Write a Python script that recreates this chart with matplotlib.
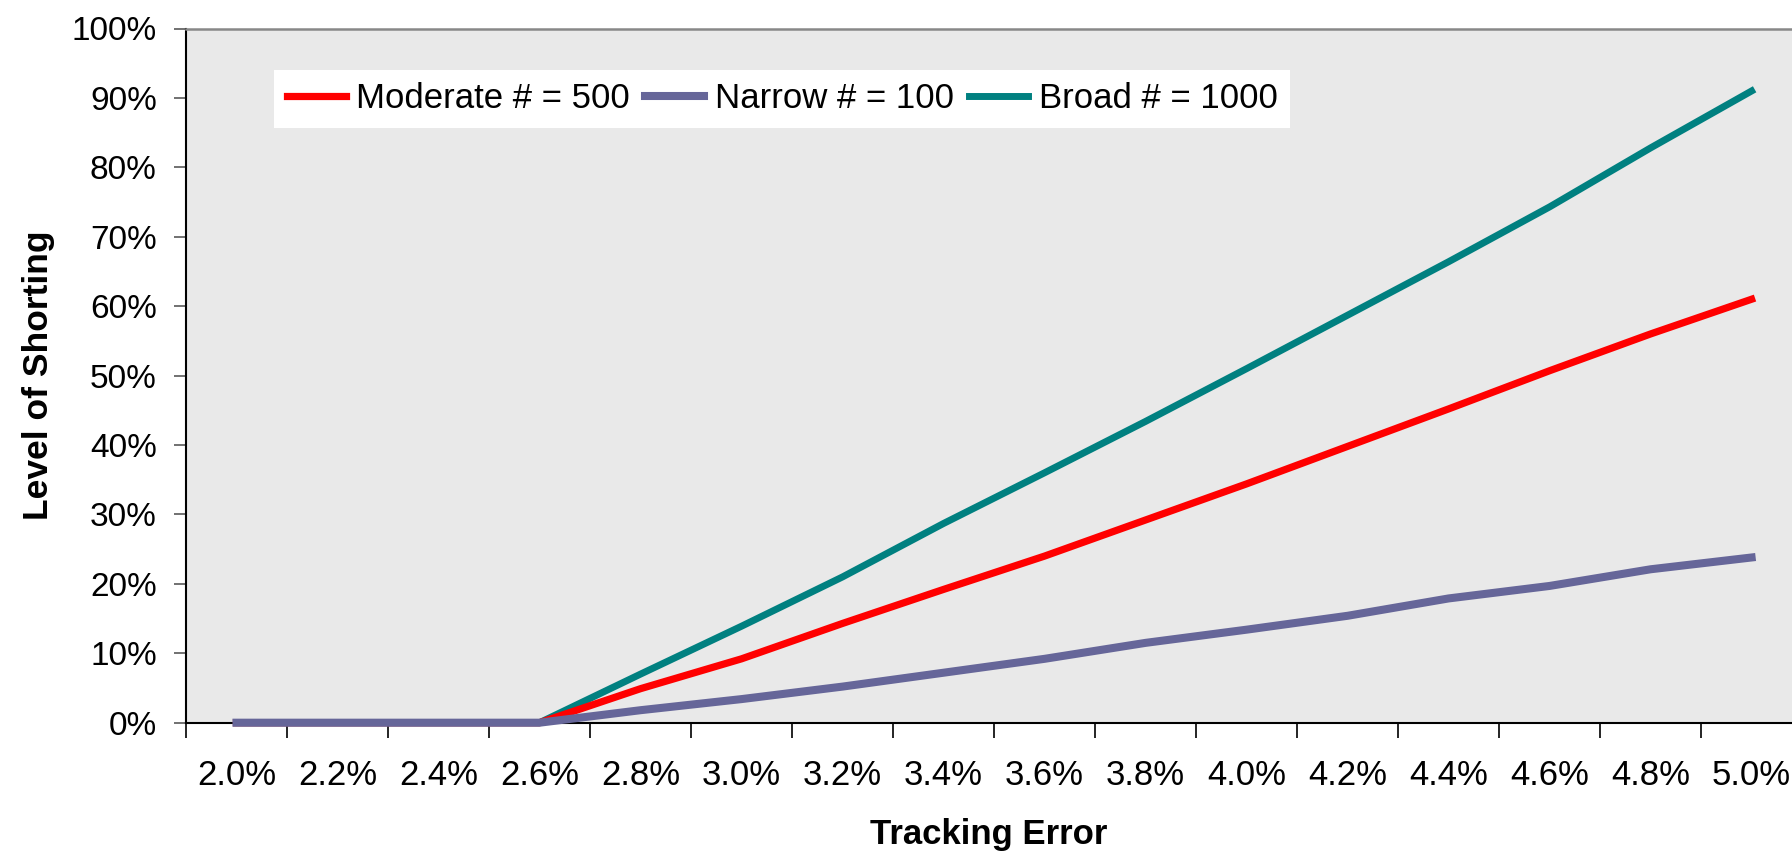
import matplotlib
matplotlib.use("Agg")
import matplotlib.pyplot as plt
from matplotlib.ticker import FixedLocator, FuncFormatter

categories = ["2.0%", "2.2%", "2.4%", "2.6%", "2.8%", "3.0%", "3.2%", "3.4%",
              "3.6%", "3.8%", "4.0%", "4.2%", "4.4%", "4.6%", "4.8%", "5.0%"]
moderate = [0, 0, 0, 0, 4.9, 9.2, 14.3, 19.2, 24.0, 29.2, 34.4, 39.8, 45.2, 50.7, 56.0, 61.0]
narrow = [0, 0, 0, 0, 1.8, 3.4, 5.2, 7.2, 9.2, 11.5, 13.4, 15.4, 17.9, 19.7, 22.1, 23.8]
broad = [0, 0, 0, 0, 7.0, 13.9, 21.0, 28.7, 36.0, 43.4, 51.0, 58.7, 66.4, 74.3, 82.8, 91.0]
series_names = ["Moderate # = 500", "Narrow # = 100", "Broad # = 1000"]
y_ticks = [0, 10, 20, 30, 40, 50, 60, 70, 80, 90, 100]

plt.rcParams['font.family'] = ['Liberation Sans', 'DejaVu Sans']

W, H = 1792, 851
fig = plt.figure(figsize=(W / 100, H / 100), dpi=100)
fig.patch.set_facecolor('white')
left, right, top, bottom = 186, 1792, 28.5, 722.7
ax = fig.add_axes([left / W, 1 - bottom / H, (right - left) / W, (bottom - top) / H])
ax.set_facecolor('#E9E9E9')

x = list(range(len(categories)))
ax.plot(x, moderate, color='#FF0000', lw=5.2, label=series_names[0], zorder=3, clip_on=False)
ax.plot(x, narrow, color='#666699', lw=5.8, label=series_names[1], zorder=4, clip_on=False)
ax.plot(x, broad, color='#008080', lw=5.0, label=series_names[2], zorder=2, clip_on=False)

ax.set_xlim(-0.5, 15.4)
ax.set_ylim(0, 100)

ax.xaxis.set_major_locator(FixedLocator([i - 0.5 for i in range(len(categories) + 1)]))
ax.xaxis.set_minor_locator(FixedLocator(x))
ax.xaxis.set_major_formatter(FuncFormatter(lambda v, p: ""))
ax.xaxis.set_minor_formatter(FuncFormatter(lambda v, p: categories[int(round(v))] if 0 <= round(v) < len(categories) else ""))
ax.tick_params(axis='x', which='major', length=11, width=1.2, color='black', direction='out')
ax.tick_params(axis='x', which='minor', length=0, pad=26, labelsize=25)

ax.set_yticks(y_ticks)
ax.yaxis.set_major_formatter(FuncFormatter(lambda v, p: f"{v:.0f}%"))
ax.tick_params(axis='y', which='major', length=9, width=1.3, color='#666666', pad=12, labelsize=24)

for s in ['left', 'bottom']:
    ax.spines[s].set_color('black')
    ax.spines[s].set_linewidth(1.5)
ax.spines['top'].set_color('#888888')
ax.spines['top'].set_linewidth(1.8)
ax.spines['right'].set_visible(False)

ax.set_xlabel("Tracking Error", fontsize=25, fontweight='bold', labelpad=19)
ax.set_ylabel("Level of Shorting", fontsize=25.5, fontweight='bold', labelpad=12)

leg = ax.legend(loc='upper left', bbox_to_anchor=(274 / W, 1 - 70 / H), bbox_transform=fig.transFigure,
                ncol=3, fontsize=25, frameon=True, fancybox=False, framealpha=1,
                handlelength=1.7, handletextpad=0.3, columnspacing=0.45, borderpad=0.36,
                borderaxespad=0)
leg.get_frame().set_facecolor('white')
leg.get_frame().set_edgecolor('white')
leg.get_frame().set_linewidth(0)

fig.savefig("out.png", dpi=100)
